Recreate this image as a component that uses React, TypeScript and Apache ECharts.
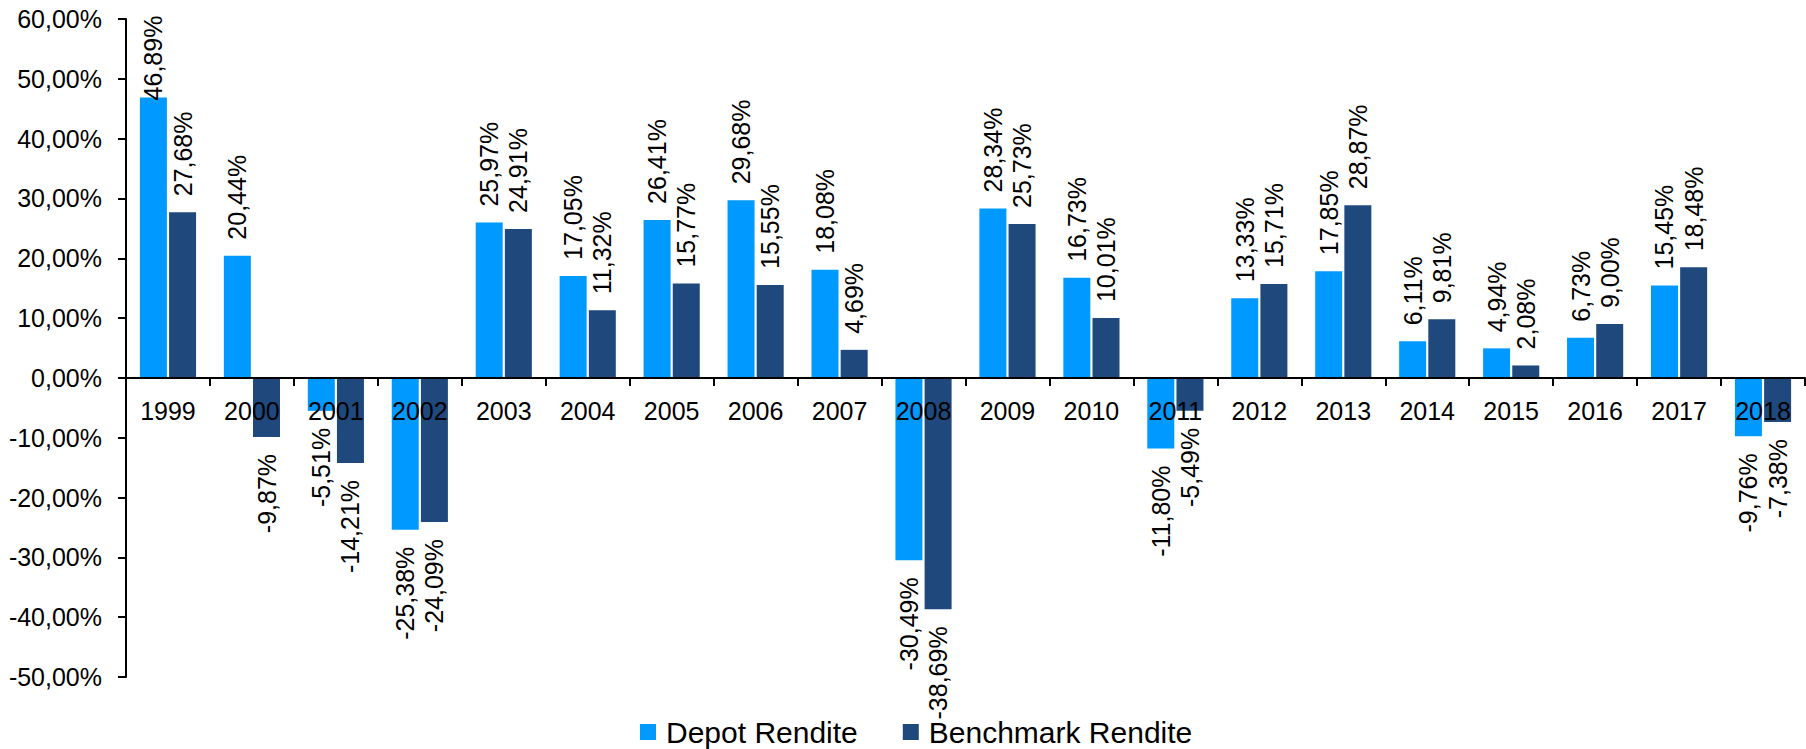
import React, { useEffect, useRef } from "react";
import * as echarts from "echarts";

const years = ["1999", "2000", "2001", "2002", "2003", "2004", "2005", "2006", "2007", "2008", "2009", "2010", "2011", "2012", "2013", "2014", "2015", "2016", "2017", "2018"];
const depotRendite = [46.89, 20.44, -5.51, -25.38, 25.97, 17.05, 26.41, 29.68, 18.08, -30.49, 28.34, 16.73, -11.8, 13.33, 17.85, 6.11, 4.94, 6.73, 15.45, -9.76];
const benchmarkRendite = [27.68, -9.87, -14.21, -24.09, 24.91, 11.32, 15.77, 15.55, 4.69, -38.69, 25.73, 10.01, -5.49, 15.71, 28.87, 9.81, 2.08, 9.0, 18.48, -7.38];
const seriesNames = ["Depot Rendite", "Benchmark Rendite"];
const colors = ["#0099FF", "#1F497D"];
const yMin = -50;
const yMax = 60;
const yStep = 10;

const FONT = "'Liberation Sans', Arial, sans-serif";
const fmt = (v: number) => v.toFixed(2).replace(".", ",") + "%";

const GRID_TOP = 19;
const GRID_BOTTOM = 72;
const CHART_H = 749;

function buildData(values: number[]) {
  return values.map((v) => ({
    value: v,
    label:
      v >= 0
        ? { position: "top", align: "left", verticalAlign: "middle", distance: v > 40 ? -3 : 16 }
        : { position: "bottom", align: "right", verticalAlign: "middle", distance: 17 },
  }));
}

export default function App() {
  const ref = useRef<HTMLDivElement>(null);
  useEffect(() => {
    if (!ref.current) return;
    const chart = echarts.init(ref.current, undefined, { renderer: "svg" });
    const gridH = CHART_H - GRID_TOP - GRID_BOTTOM;
    const zeroOffset = -(gridH * (0 - yMin)) / (yMax - yMin);
    const labelCommon = {
      show: true,
      rotate: 90,
      color: "#000",
      fontSize: 25,
      fontFamily: FONT,
      formatter: (p: any) => fmt(p.value),
    };
    chart.setOption({
      animation: false,
      backgroundColor: "#fff",
      textStyle: { fontFamily: FONT },
      grid: { left: 126, right: 1, top: GRID_TOP, bottom: GRID_BOTTOM, containLabel: false },
      legend: {
        data: seriesNames,
        left: 640,
        top: 717,
        padding: 0,
        icon: "rect",
        itemWidth: 16,
        itemHeight: 16,
        itemGap: 45,
        textStyle: { fontSize: 30, color: "#000", fontFamily: FONT, padding: [0, 0, 0, 5] },
      },
      xAxis: {
        type: "category",
        data: years,
        z: 10,
        position: "bottom",
        offset: zeroOffset,
        axisLine: { onZero: false, lineStyle: { color: "#000", width: 2 } },
        axisTick: { show: true, length: 8, lineStyle: { color: "#000", width: 2 } },
        axisLabel: { margin: 21, fontSize: 25, color: "#000", fontFamily: FONT },
        splitLine: { show: false },
      },
      yAxis: {
        type: "value",
        min: yMin,
        max: yMax,
        interval: yStep,
        axisLine: { show: true, lineStyle: { color: "#000", width: 2 } },
        axisTick: { show: true, length: 8, lineStyle: { color: "#000", width: 2 } },
        axisLabel: {
          margin: 24,
          fontSize: 25,
          color: "#000",
          fontFamily: FONT,
          formatter: (v: number) => fmt(v),
        },
        splitLine: { show: false },
      },
      series: [
        {
          name: seriesNames[0],
          type: "bar",
          data: buildData(depotRendite),
          barWidth: 27,
          barGap: "8%",
          itemStyle: { color: colors[0] },
          label: labelCommon,
        },
        {
          name: seriesNames[1],
          type: "bar",
          data: buildData(benchmarkRendite),
          barWidth: 27,
          barGap: "8%",
          itemStyle: { color: colors[1] },
          label: labelCommon,
        },
      ],
    });
    return () => chart.dispose();
  }, []);
  return (
    <div
      ref={ref}
      style={{ position: "fixed", left: 0, top: 0, width: 1806, height: 749, background: "#fff" }}
    />
  );
}
